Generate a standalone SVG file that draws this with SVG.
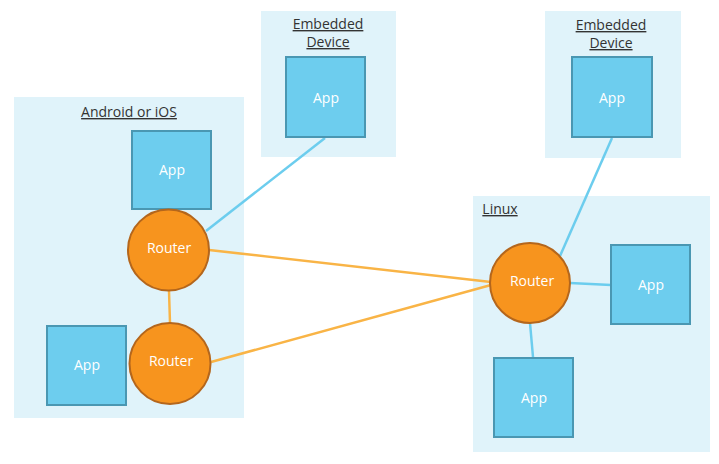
<svg xmlns="http://www.w3.org/2000/svg" width="719" height="464" viewBox="0 0 719 464">
<style>
.box{fill:#e0f3fa}
.app{fill:#6dcdee;stroke:#4a97b2;stroke-width:2}
.router{fill:#f7941e;stroke:#b4661c;stroke-width:2}
.lbl{font-family:"Open Sans","Liberation Sans",sans-serif;font-size:14px;fill:#fff;text-anchor:middle}
.ttl{font-family:"Open Sans","Liberation Sans",sans-serif;font-size:14px;fill:#333;text-anchor:middle;text-decoration:underline}
.blue{stroke:#6ccdee;stroke-width:2.5;fill:none}
.orange{stroke:#f9b446;stroke-width:2.5;fill:none}
</style>
<rect width="719" height="464" fill="#fff"/>
<g id="android-container"><rect class="box" x="14" y="97" width="230" height="321"/><text class="ttl" x="129" y="117">Android or iOS</text></g>
<g id="embedded1-container"><rect class="box" x="261" y="11" width="135" height="146"/><text class="ttl" x="328" y="29">Embedded</text><text class="ttl" x="328" y="47">Device</text></g>
<g id="embedded2-container"><rect class="box" x="545" y="11" width="136" height="147"/><text class="ttl" x="611" y="30">Embedded</text><text class="ttl" x="611" y="48">Device</text></g>
<g id="linux-container"><rect class="box" x="473" y="196" width="237" height="256"/><text class="ttl" x="500" y="214">Linux</text></g>
<g id="connectors">
<line class="blue" x1="206" y1="231" x2="325" y2="138"/>
<line class="blue" x1="560" y1="256" x2="612" y2="138"/>
<line class="blue" x1="570" y1="283" x2="611" y2="285"/>
<line class="blue" x1="530" y1="323" x2="533" y2="357"/>
<line class="orange" x1="209" y1="250" x2="491" y2="282"/>
<line class="orange" x1="211" y1="362" x2="491" y2="285"/>
<line class="orange" x1="169" y1="291" x2="170" y2="323"/>
</g>
<g id="app-android-top"><rect class="app" x="132" y="131" width="79" height="78"/><text class="lbl" x="172" y="175">App</text></g>
<g id="app-android-bottom"><rect class="app" x="47" y="326" width="79" height="79"/><text class="lbl" x="87" y="370">App</text></g>
<g id="app-embedded1"><rect class="app" x="286" y="57" width="79" height="80"/><text class="lbl" x="326" y="103">App</text></g>
<g id="app-embedded2"><rect class="app" x="572" y="57" width="80" height="80"/><text class="lbl" x="612" y="103">App</text></g>
<g id="app-linux-right"><rect class="app" x="611" y="245" width="79" height="79"/><text class="lbl" x="651" y="290">App</text></g>
<g id="app-linux-bottom"><rect class="app" x="494" y="358" width="79" height="79"/><text class="lbl" x="534" y="403">App</text></g>
<g id="router-android-1"><circle class="router" cx="168.5" cy="250" r="40.5"/><text class="lbl" x="169" y="253">Router</text></g>
<g id="router-android-2"><circle class="router" cx="170" cy="363.5" r="40.5"/><text class="lbl" x="171" y="366">Router</text></g>
<g id="router-linux"><circle class="router" cx="530" cy="283" r="40"/><text class="lbl" x="532" y="286">Router</text></g>
</svg>
